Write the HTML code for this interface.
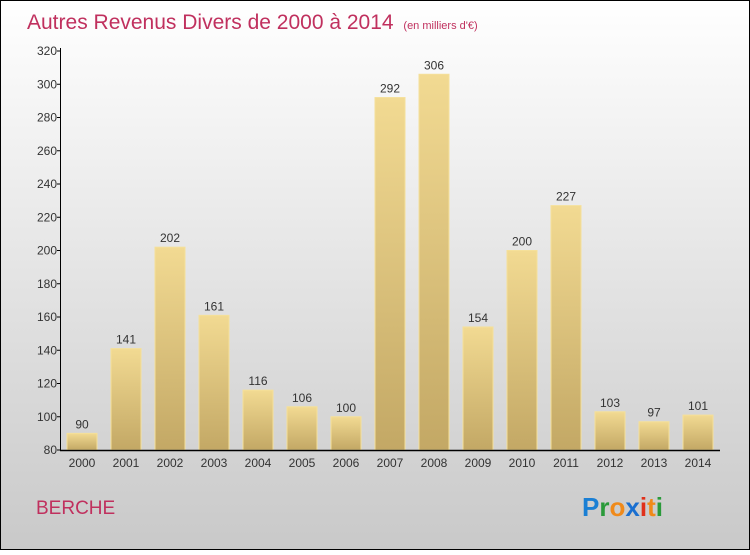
<!DOCTYPE html>
<html><head><meta charset="utf-8"><style>
body{margin:0}
svg text{font-family:"Liberation Sans",sans-serif}
</style></head><body>
<svg width="750" height="550" xmlns="http://www.w3.org/2000/svg">
<defs>
<linearGradient id="bg" x1="0" y1="0" x2="0" y2="1"><stop offset="0" stop-color="#ffffff"/><stop offset="1" stop-color="#c9c9c9"/></linearGradient>
<linearGradient id="bar" x1="0" y1="0" x2="0" y2="1"><stop offset="0" stop-color="#f2da92"/><stop offset="1" stop-color="#c3a865"/></linearGradient>
</defs>
<rect x="0.5" y="0.5" width="749" height="549" fill="url(#bg)" stroke="#000"/>
<text x="27" y="29" font-size="21" fill="#c0305e">Autres Revenus Divers de 2000 à 2014 <tspan font-size="11" dx="4">(en milliers d'€)</tspan></text>
<g id="plot"></g>
<text x="36" y="514" font-size="19" fill="#c0305e">BERCHE</text>
<text x="582" y="516" font-size="26" font-weight="bold"><tspan fill="#1a7fd4">P</tspan><tspan fill="#2a9a3a">r</tspan><tspan fill="#f08a1a">o</tspan><tspan fill="#1a6fd0">x</tspan><tspan fill="#e0301a">i</tspan><tspan fill="#f08a1a">t</tspan><tspan fill="#2a9a3a">i</tspan></text>
</svg>
<script>
const years=["2000","2001","2002","2003","2004","2005","2006","2007","2008","2009","2010","2011","2012","2013","2014"];
const values=[90,141,202,161,116,106,100,292,306,154,200,227,103,97,101];
const yTicks=[80,100,120,140,160,180,200,220,240,260,280,300,320];
const NS="http://www.w3.org/2000/svg";
const g=document.getElementById('plot');
const y=v=>450-(v-80)*(399/240);
const x=i=>82+i*44;
function el(t,a,txt){const e=document.createElementNS(NS,t);for(const k in a)e.setAttribute(k,a[k]);if(txt!=null)e.textContent=txt;g.appendChild(e);return e;}
values.forEach((v,i)=>{
 const r=el('rect',{x:x(i)-15,y:y(v),width:30,height:450-y(v),fill:'url(#bar)',stroke:'#f5e09a','stroke-width':1});
 
 
 const t=el('text',{x:x(i),y:y(v)-5,'font-size':12,fill:'#333','text-anchor':'middle'},String(v));
 
 
 const xl=el('text',{x:x(i),y:467,'font-size':12,fill:'#333','text-anchor':'middle'},years[i]);
 
 
});
const ya=el('line',{x1:60.5,y1:48,x2:60.5,y2:451,stroke:'#000'});


const xa=el('line',{x1:60,y1:450.5,x2:720,y2:450.5,stroke:'#000','stroke-width':1.5});


yTicks.forEach(v=>{
 el('line',{x1:57,y1:y(v),x2:61,y2:y(v),stroke:'#000'});
 const t=el('text',{x:57,y:y(v)+4,'font-size':12,fill:'#333','text-anchor':'end'},String(v));
 
 
});
</script>
</body></html>
